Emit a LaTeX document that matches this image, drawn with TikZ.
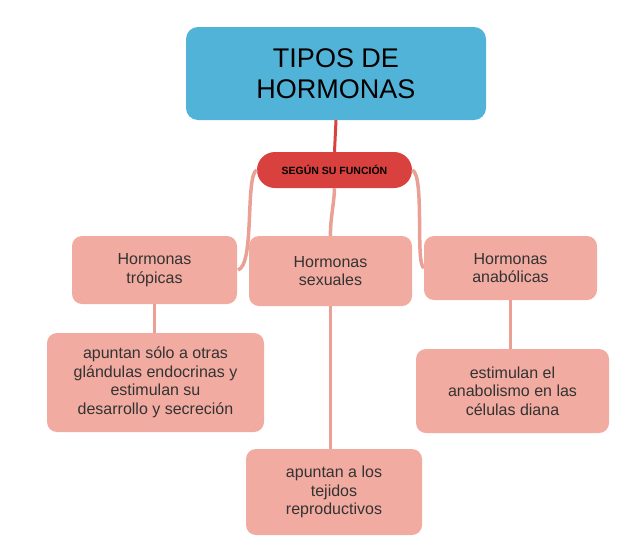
\documentclass[tikz,border=0pt]{standalone}
\usepackage{fontspec}
\setmainfont{Liberation Sans}
\begin{document}
\begin{tikzpicture}[x=1pt,y=-1pt,
  box/.style={rounded corners=10pt,fill=salm,draw=none,align=center,font=\fontsize{16}{18.5}\selectfont,text=black!80},
  link/.style={draw=linkc,line width=3.5pt}]
\definecolor{salm}{HTML}{F2ABA0}
\definecolor{linkc}{HTML}{EBA096}
\definecolor{topblue}{HTML}{52B3D9}
\definecolor{pillred}{HTML}{D9413F}
\useasboundingbox (0,0) rectangle (642,558);
\node[rounded corners=12pt,fill=topblue,minimum width=300pt,minimum height=93pt,align=center,font=\fontsize{27}{31}\selectfont] (top) at (336,73.5) {TIPOS DE\\HORMONAS};
\node[rounded corners=18pt,fill=pillred,minimum width=155pt,minimum height=36pt,font=\bfseries\fontsize{10.5}{12}\selectfont] (pill) at (334.5,170) {SEGÚN SU FUNCIÓN};
\draw[draw=pillred,line width=3pt] (top.south) -- (pill.north);
\draw[link] (pill.west) .. controls (245,175) and (255,265) .. (238,270);
\draw[link] (pill.south) .. controls (334,205) and (330,220) .. (330.5,236);
\draw[link] (pill.east) .. controls (425,175) and (415,265) .. (424,268);
\node[box,minimum width=165pt,minimum height=68pt] (t) at (154.5,270) {Hormonas\\trópicas};
\node[box,minimum width=163pt,minimum height=70pt] (s) at (330.5,271) {Hormonas\\sexuales};
\node[box,minimum width=173pt,minimum height=64pt] (a) at (510.5,268) {Hormonas\\anabólicas};
\draw[link] (t.south) -- (154.5,333);
\draw[link] (s.south) -- (330.5,449);
\draw[link] (a.south) -- (510.5,349);
\node[box,minimum width=217pt,minimum height=99pt] (d1) at (155.5,382.5) {apuntan sólo a otras\\glándulas endocrinas y\\estimulan su\\desarrollo y secreción};
\node[box,minimum width=193pt,minimum height=84pt] (d2) at (512.5,391) {estimulan el\\anabolismo en las\\células diana};
\node[box,minimum width=176pt,minimum height=86pt] (d3) at (334,492) {apuntan a los\\tejidos\\reproductivos};
\end{tikzpicture}
\end{document}
